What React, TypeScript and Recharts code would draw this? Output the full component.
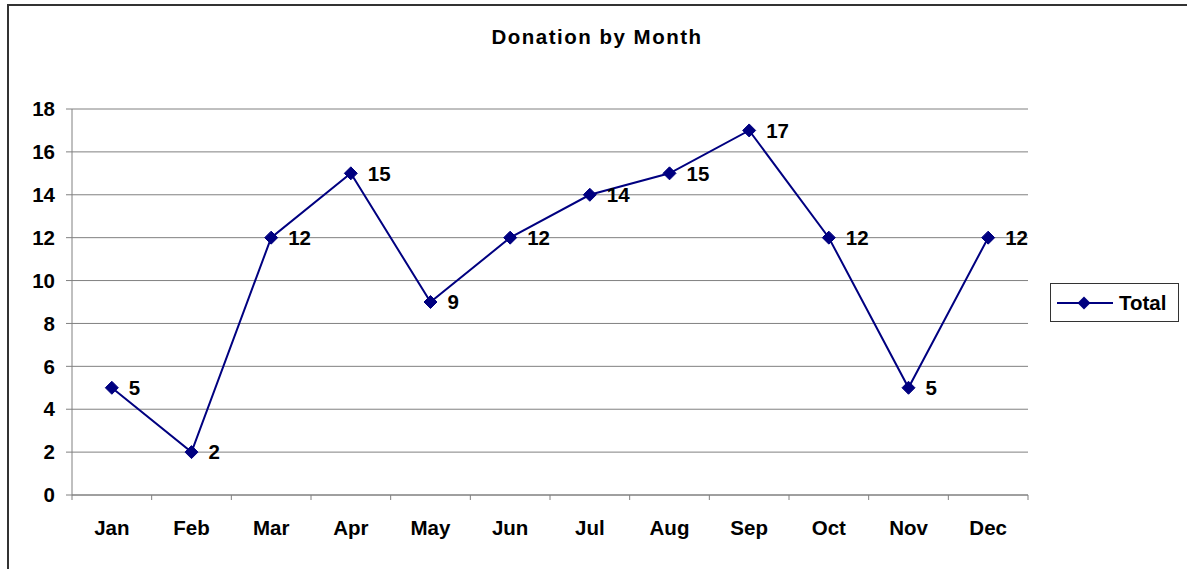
import React from 'react';
import {
  LineChart, Line, XAxis, YAxis, CartesianGrid, Legend, LabelList
} from 'recharts';

// chart values
const months = ['Jan', 'Feb', 'Mar', 'Apr', 'May', 'Jun', 'Jul', 'Aug', 'Sep', 'Oct', 'Nov', 'Dec'];
const totals = [5, 2, 12, 15, 9, 12, 14, 15, 17, 12, 5, 12];
const yTicks = [0, 2, 4, 6, 8, 10, 12, 14, 16, 18];

const data = months.map((m, i) => ({ month: m, Total: totals[i] }));

// layout
const W = 1187;
const H = 569;
const PLOT_LEFT = 72;
const PLOT_RIGHT = 1028;
const PLOT_TOP = 109;
const PLOT_BOTTOM = 495;
const BAND = (PLOT_RIGHT - PLOT_LEFT) / months.length;
const LEGEND_W = 130;

const NAVY = '#000080';
const GRID = '#808080';
const FONT = '"Liberation Sans", Arial, sans-serif';
const FS = 20.5;

const Diamond = (props: any) => {
  const { cx, cy } = props;
  if (cx == null || cy == null) return null;
  const r = 6.5;
  return (
    <path
      d={`M${cx},${cy - r} L${cx + r},${cy} L${cx},${cy + r} L${cx - r},${cy} Z`}
      fill={NAVY}
      stroke={NAVY}
    />
  );
};

// month label plus a tick mark on the left boundary of each category
const MonthTick = (props: any) => {
  const { x, y, payload, index } = props;
  const half = BAND / 2;
  const top = y - 25;
  return (
    <g>
      <line x1={x - half} x2={x - half} y1={top} y2={top + 5} stroke={GRID} />
      {index === months.length - 1 && (
        <line x1={x + half} x2={x + half} y1={top} y2={top + 5} stroke={GRID} />
      )}
      <text x={x} y={y} dy="0.71em" textAnchor="middle" fontSize={FS} fontWeight="bold" fill="#000">
        {payload.value}
      </text>
    </g>
  );
};

const ValueLabel = (props: any) => {
  const { x, y, value } = props;
  return (
    <text x={x + 17} y={y} dy="0.36em" textAnchor="start" fontSize={FS} fontWeight="bold" fill="#000">
      {value}
    </text>
  );
};

const LegendBox = () => (
  <div
    style={{
      width: LEGEND_W - 1,
      height: 39,
      boxSizing: 'border-box',
      border: '1px solid #333',
      display: 'flex',
      alignItems: 'center',
      fontFamily: FONT,
      fontWeight: 'bold',
      fontSize: FS,
      color: '#000',
      background: '#fff',
    }}
  >
    <svg width={62} height={20} style={{ marginLeft: 6 }}>
      <line x1={0} x2={56} y1={10} y2={10} stroke={NAVY} strokeWidth={2} />
      <path d="M27,3.5 L33.5,10 L27,16.5 L20.5,10 Z" fill={NAVY} />
    </svg>
    <span>Total</span>
  </div>
);

export default function App() {
  return (
    <div style={{ position: 'absolute', left: 0, top: 0, width: W, height: H, overflow: 'hidden', background: '#fff', fontFamily: FONT }}>
      <div
        style={{
          position: 'absolute', left: 7, top: 4, width: 1400, height: 800,
          borderTop: '2px solid #333', borderLeft: '2px solid #333',
        }}
      />
      <div
        style={{
          position: 'absolute', left: 397, top: 25, width: 400, textAlign: 'center',
          fontSize: FS, fontWeight: 'bold', color: '#000', letterSpacing: 1.5,
        }}
      >
        Donation by Month
      </div>
      <div style={{ position: 'absolute', left: 0, top: 0 }}>
        <LineChart
          width={W}
          height={H}
          data={data}
          margin={{ top: PLOT_TOP, right: W - PLOT_RIGHT - LEGEND_W, bottom: H - PLOT_BOTTOM - 30, left: PLOT_LEFT - 60 }}
          style={{ fontFamily: FONT }}
        >
          <CartesianGrid horizontal vertical={false} stroke={GRID} />
          <XAxis
            dataKey="month"
            height={30}
            padding={{ left: BAND / 2, right: BAND / 2 }}
            axisLine={{ stroke: GRID }}
            tickLine={false}
            tickSize={5}
            tickMargin={20}
            tick={<MonthTick />}
            interval={0}
          />
          <YAxis
            width={60}
            domain={[0, 18]}
            ticks={yTicks}
            interval={0}
            axisLine={{ stroke: GRID }}
            tickLine={{ stroke: GRID }}
            tickSize={6}
            tickMargin={11}
            tick={{ fontSize: FS, fontWeight: 'bold', fill: '#000' }}
          />
          <Legend
            layout="vertical"
            align="right"
            verticalAlign="top"
            width={LEGEND_W}
            height={40}
            wrapperStyle={{ left: 1050, top: 283, right: undefined, width: LEGEND_W, height: 40 }}
            content={() => <LegendBox />}
          />
          <Line
            type="linear"
            dataKey="Total"
            stroke={NAVY}
            strokeWidth={2}
            dot={<Diamond />}
            activeDot={false}
            isAnimationActive={false}
          >
            <LabelList dataKey="Total" content={<ValueLabel />} />
          </Line>
        </LineChart>
      </div>
    </div>
  );
}
